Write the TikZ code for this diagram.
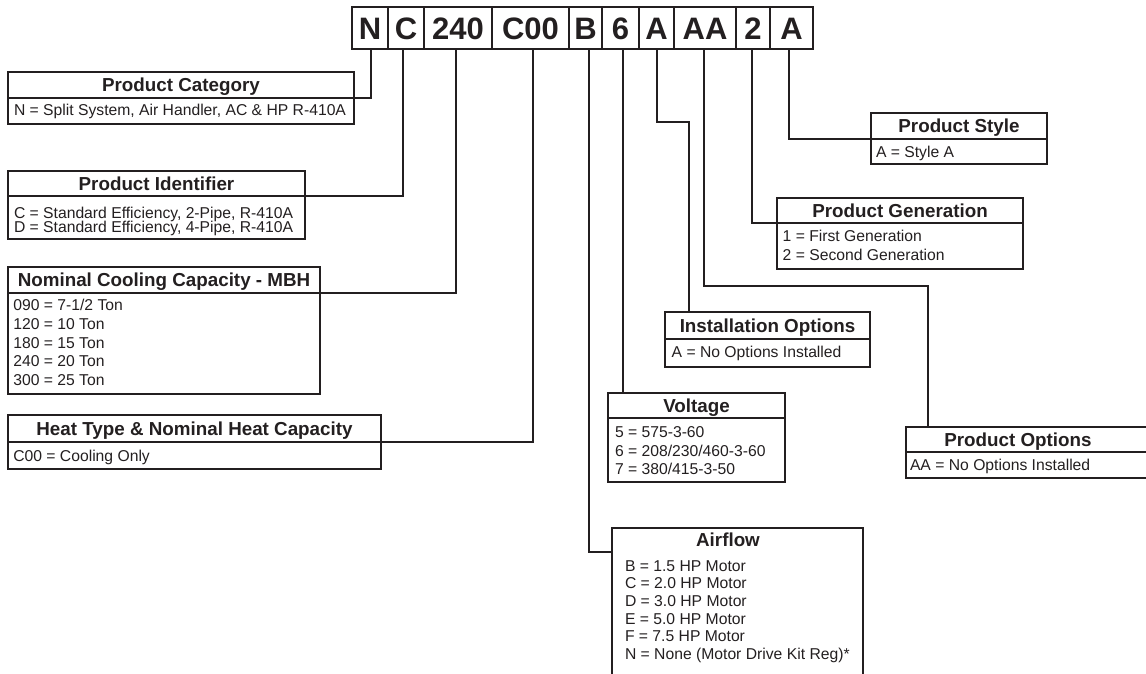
\documentclass[tikz,border=0pt]{standalone}
\usepackage{fontspec}
\setmainfont{Liberation Sans}
\definecolor{ink}{HTML}{231F20}
\newcommand\hdrfont{\fontsize{18.8}{22}\selectfont\bfseries}
\newcommand\bodyfont{\fontsize{15.7}{18}\selectfont}
\newcommand\codefont{\fontsize{31}{36}\selectfont\bfseries}
\tikzset{
  frame/.style={draw=ink, line width=2.6pt, inner sep=0pt, outer sep=0pt, anchor=north west},
  hdr/.style={inner sep=0pt, outer sep=0pt, anchor=north west, text=ink, font=\hdrfont, text height=13.4pt, text depth=0pt},
  body/.style={inner sep=0pt, outer sep=0pt, anchor=base west, text=ink, font=\bodyfont},
  cell/.style={draw=ink, line width=1.2pt, inner sep=0pt, outer sep=0pt, anchor=north west, minimum height=42pt, text=ink, font=\codefont, text height=22.2pt, text depth=0pt},
  div/.style={draw=ink, line width=1.2pt},
  conn/.style={draw=ink, line width=1.2pt},
}
\begin{document}
\begin{tikzpicture}[x=1pt,y=-1pt]
\useasboundingbox (0,0) rectangle (1146,673);
\clip (0,0) rectangle (1146,673);

% code strip
\node[cell, minimum width=36pt] (cN)   at (352,7) {N};
\node[cell, minimum width=36pt] (cC)   at (388,7) {C};
\node[cell, minimum width=68pt] (c240) at (424,7) {240};
\node[cell, minimum width=77pt] (cC00) at (492,7) {C00};
\node[cell, minimum width=33pt] (cB)   at (569,7) {B};
\node[cell, minimum width=37pt] (c6)   at (602,7) {6};
\node[cell, minimum width=35pt] (cA1)  at (639,7) {A};
\node[cell, minimum width=62pt] (cAA)  at (674,7) {AA};
\node[cell, minimum width=34pt] (c2)   at (736,7) {2};
\node[cell, minimum width=43pt] (cA2)  at (770,7) {A};
\draw[ink, line width=2.5pt] (cN.north west) rectangle (cA2.south east);

\coordinate (kN)   at (371,49);
\coordinate (kC)   at (403,49);
\coordinate (k240) at (456,49);
\coordinate (kC00) at (533,49);
\coordinate (kB)   at (589,49);
\coordinate (k6)   at (623,49);
\coordinate (kA1)  at (657,49);
\coordinate (kAA)  at (704,49);
\coordinate (k2)   at (752,49);
\coordinate (kA2)  at (789,49);

% Product Category
\node[frame, minimum width=346pt, minimum height=52pt] (cat) at (8,72) {};
\node[hdr, minimum width=346pt, minimum height=26pt] (catH) at (cat.north west) {Product Category};
\draw[div] (catH.south west) -- (catH.south east);
\node[body] (cat1) at (14,115) {N = Split System, Air Handler, AC \& HP R-410A};

% Product Identifier
\node[frame, minimum width=297pt, minimum height=68pt] (pid) at (8,171) {};
\node[hdr, minimum width=297pt, minimum height=25pt] (pidH) at (pid.north west) {Product Identifier};
\draw[div] (pidH.south west) -- (pidH.south east);
\node[body] (pid1) at (14,218.3) {C = Standard Efficiency, 2-Pipe, R-410A};
\node[body] (pid2) at (14,232.3) {D = Standard Efficiency, 4-Pipe, R-410A};

% Nominal Cooling Capacity
\node[frame, minimum width=312pt, minimum height=127pt] (nom) at (8,267) {};
\node[hdr, minimum width=312pt, minimum height=26pt] (nomH) at (nom.north west) {Nominal Cooling Capacity - MBH};
\draw[div] (nomH.south west) -- (nomH.south east);
\node[body] (nom1) at (13.3,310.7) {090 = 7-1/2 Ton};
\node[body] (nom2) at (13.3,329.3) {120 = 10 Ton};
\node[body] (nom3) at (13.3,348) {180 = 15 Ton};
\node[body] (nom4) at (13.3,366.7) {240 = 20 Ton};
\node[body] (nom5) at (13.3,385.3) {300 = 25 Ton};

% Heat Type
\node[frame, minimum width=373pt, minimum height=54pt] (heat) at (8,415) {};
\node[hdr, minimum width=373pt, minimum height=27pt] (heatH) at (heat.north west) {Heat Type \& Nominal Heat Capacity};
\draw[div] (heatH.south west) -- (heatH.south east);
\node[body] (heat1) at (13.3,461.7) {C00 = Cooling Only};

% Voltage
\node[frame, minimum width=177pt, minimum height=89pt] (vol) at (608,393) {};
\node[hdr, minimum width=177pt, minimum height=25pt] (volH) at (vol.north west) {Voltage};
\draw[div] (volH.south west) -- (volH.south east);
\node[body] (vol1) at (615,437.7) {5 = 575-3-60};
\node[body] (vol2) at (615,456.2) {6 = 208/230/460-3-60};
\node[body] (vol3) at (615,474.7) {7 = 380/415-3-50};

% Installation Options
\node[frame, minimum width=205pt, minimum height=55pt] (ins) at (665,312) {};
\node[hdr, minimum width=205pt, minimum height=27pt] (insH) at (ins.north west) {Installation Options};
\draw[div] (insH.south west) -- (insH.south east);
\node[body] (ins1) at (671.7,357.3) {A = No Options Installed};

% Airflow
\node[frame, minimum width=251pt, minimum height=200pt] (air) at (612,528) {};
\node[hdr, minimum width=232pt, minimum height=24pt] (airH) at (air.north west) {Airflow};
\node[body] (air1) at (625,571)   {B = 1.5 HP Motor};
\node[body] (air2) at (625,588.7) {C = 2.0 HP Motor};
\node[body] (air3) at (625,606.4) {D = 3.0 HP Motor};
\node[body] (air4) at (625,624.1) {E = 5.0 HP Motor};
\node[body] (air5) at (625,641.8) {F = 7.5 HP Motor};
\node[body] (air6) at (625,659.5) {N = None (Motor Drive Kit Reg)*};

% Product Style
\node[frame, minimum width=176pt, minimum height=51pt] (sty) at (871,113) {};
\node[hdr, minimum width=176pt, minimum height=26pt] (styH) at (sty.north west) {Product Style};
\draw[div] (styH.south west) -- (styH.south east);
\node[body] (sty1) at (876,157.7) {A = Style A};

% Product Generation
\node[frame, minimum width=246pt, minimum height=71pt] (gen) at (777,198) {};
\node[hdr, minimum width=246pt, minimum height=25pt] (genH) at (gen.north west) {Product Generation};
\draw[div] (genH.south west) -- (genH.south east);
\node[body] (gen1) at (782.7,241.3) {1 = First Generation};
\node[body] (gen2) at (782.7,260.3) {2 = Second Generation};

% Product Options
\node[frame, minimum width=260pt, minimum height=51pt] (opt) at (906,427) {};
\node[hdr, minimum width=224pt, minimum height=25pt] (optH) at (opt.north west) {Product Options};
\draw[div] (optH.south west) -- (opt.east |- optH.south);
\node[body] (opt1) at (910,470.7) {AA = No Options Installed};

% connectors
\draw[conn] (kN) |- (catH.south east);
\draw[conn] (kC) |- (pidH.south east);
\draw[conn] (k240) |- (nomH.south east);
\draw[conn] (kC00) |- (heatH.south east);
\draw[conn] (kB) |- (airH.south west);
\draw[conn] (k6) -- (k6 |- vol.north);
\draw[conn] (kA1) |- ([xshift=24pt,yshift=190pt]ins.north west) -- ([xshift=24pt]ins.north west);
\draw[conn] (kAA) |- ([xshift=22pt,yshift=141pt]opt.north west) -- ([xshift=22pt]opt.north west);
\draw[conn] (k2) |- (genH.south west);
\draw[conn] (kA2) |- (styH.south west);
\end{tikzpicture}
\end{document}
